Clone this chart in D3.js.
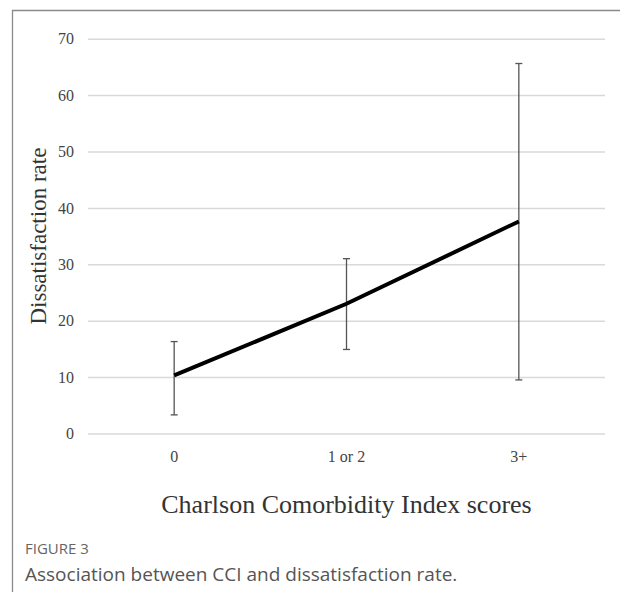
<!DOCTYPE html>
<html>
<head>
<meta charset="utf-8">
<script src="https://cdn.jsdelivr.net/npm/d3@7"></script>
<style>
  body { margin: 0; background: #fff; }
</style>
</head>
<body>
<svg id="chart"></svg>
<script>
const categories = ['0', '1 or 2', '3+'];
const rates = [10.3, 23.0, 37.6];
const lowers = [3.3, 14.9, 9.5];
const uppers = [16.3, 31.0, 65.6];
const yTicks = [0, 10, 20, 30, 40, 50, 60, 70];

const W = 620, H = 592;
const margin = { top: 38.7, right: 15, bottom: 158.5, left: 88 };
const width = W - margin.left - margin.right;
const height = H - margin.top - margin.bottom;

const svg = d3.select('#chart').attr('width', W).attr('height', H);

// page frame
svg.append('path')
  .attr('d', `M12.5,${H} V10.5 H${W}`)
  .attr('fill', 'none')
  .attr('stroke', '#8a8a8a')
  .attr('stroke-width', 1.3);

const g = svg.append('g').attr('transform', `translate(${margin.left},${margin.top})`);

const x = d3.scaleBand().domain(categories).range([0, width]);
const y = d3.scaleLinear().domain([0, 70]).range([height, 0]);

// gridlines + y labels
const yAxis = g.append('g')
  .attr('font-family', '"Liberation Serif", serif')
  .call(d3.axisLeft(y).tickValues(yTicks).tickSize(-width).tickPadding(14));
yAxis.select('.domain').remove();
yAxis.selectAll('line').attr('stroke', '#d9d9d9').attr('stroke-width', 1.5);
yAxis.selectAll('text')
  .attr('fill', '#444')
  .style('font-family', '"Liberation Serif", serif')
  .style('font-size', '16px');

// x labels
const xAxis = g.append('g')
  .attr('transform', `translate(0,${height})`)
  .call(d3.axisBottom(x).tickSize(0).tickPadding(17));
xAxis.select('.domain').remove();
xAxis.selectAll('text')
  .attr('fill', '#444')
  .style('font-family', '"Liberation Serif", serif')
  .style('font-size', '16px');

const cx = d => x(d) + x.bandwidth() / 2;
const pts = categories.map((c, i) => ({ c, v: rates[i], lo: lowers[i], hi: uppers[i] }));

// error bars
const eb = g.append('g').attr('stroke', '#555').attr('stroke-width', 1.3);
eb.selectAll('.bar').data(pts).enter().append('line')
  .attr('x1', d => cx(d.c)).attr('x2', d => cx(d.c))
  .attr('y1', d => y(d.lo)).attr('y2', d => y(d.hi));
eb.selectAll('.capT').data(pts).enter().append('line')
  .attr('x1', d => cx(d.c) - 3.5).attr('x2', d => cx(d.c) + 3.5)
  .attr('y1', d => y(d.hi)).attr('y2', d => y(d.hi));
eb.selectAll('.capB').data(pts).enter().append('line')
  .attr('x1', d => cx(d.c) - 3.5).attr('x2', d => cx(d.c) + 3.5)
  .attr('y1', d => y(d.lo)).attr('y2', d => y(d.lo));

// main line
g.append('path')
  .datum(pts)
  .attr('fill', 'none')
  .attr('stroke', '#000')
  .attr('stroke-width', 4)
  .attr('d', d3.line().x(d => cx(d.c)).y(d => y(d.v)));

// axis titles
svg.append('text')
  .attr('transform', `translate(46,${margin.top + height / 2}) rotate(-90)`)
  .attr('text-anchor', 'middle')
  .attr('fill', '#333')
  .style('font-family', '"Liberation Serif", serif')
  .style('font-size', '23px')
  .text('Dissatisfaction rate');

svg.append('text')
  .attr('x', margin.left + width / 2)
  .attr('y', 513)
  .attr('text-anchor', 'middle')
  .attr('fill', '#333')
  .style('font-family', '"Liberation Serif", serif')
  .style('font-size', '26px')
  .text('Charlson Comorbidity Index scores');

// caption
svg.append('text')
  .attr('x', 25).attr('y', 554)
  .attr('fill', '#666')
  .style('font-family', '"Open Sans", sans-serif')
  .style('font-size', '15px')
  .text('FIGURE 3');

svg.append('text')
  .attr('x', 25).attr('y', 581)
  .attr('fill', '#555')
  .style('font-family', '"Open Sans", sans-serif')
  .style('font-size', '19px')
  .text('Association between CCI and dissatisfaction rate.');
</script>
</body>
</html>
